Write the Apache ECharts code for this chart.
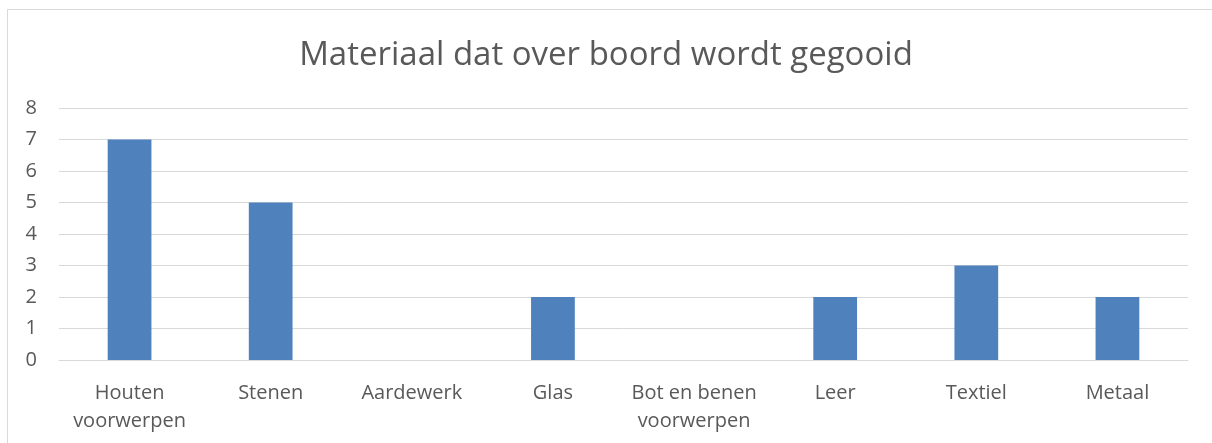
<!DOCTYPE html>
<html>
<head>
<meta charset="utf-8">
<script src="https://cdn.jsdelivr.net/npm/echarts@6/dist/echarts.min.js"></script>
<style>
  html, body { margin: 0; padding: 0; background: #fff; }
  #chart { width: 1212px; height: 443px; }
</style>
</head>
<body>
<div id="chart"></div>
<script>
const categories = ['Houten\nvoorwerpen', 'Stenen', 'Aardewerk', 'Glas', 'Bot en benen\nvoorwerpen', 'Leer', 'Textiel', 'Metaal']
const values = [7, 5, 0, 2, 0, 2, 3, 2]
const titleText = 'Materiaal dat over boord wordt gegooid'

const myChart = echarts.init(document.getElementById('chart'))
const textColor = '#595959'
const font = '"Open Sans", sans-serif'

const option = {
  backgroundColor: '#fff',
  textStyle: { fontFamily: font },
  title: {
    text: titleText,
    left: 'center',
    top: 34,
    textStyle: { color: textColor, fontSize: 33, fontWeight: 'normal', fontFamily: font }
  },
  graphic: [
    {
      type: 'rect',
      shape: { x: 7.5, y: 9.5, width: 1215, height: 445 },
      style: { fill: 'none', stroke: '#D9D9D9', lineWidth: 1 },
      silent: true
    }
  ],
  grid: { left: 59, right: 24, top: 108, bottom: 83 },
  xAxis: {
    type: 'category',
    data: categories,
    axisLine: { show: true, lineStyle: { color: '#D9D9D9' } },
    axisTick: { show: false },
    axisLabel: { color: textColor, fontSize: 20, lineHeight: 28, margin: 19, interval: 0 }
  },
  yAxis: {
    type: 'value',
    min: 0,
    max: 8,
    interval: 1,
    axisLine: { show: false },
    axisTick: { show: false },
    axisLabel: { color: textColor, fontSize: 20, margin: 22 },
    splitLine: { lineStyle: { color: '#D9D9D9', width: 1 } }
  },
  series: [
    {
      type: 'bar',
      data: values,
      barWidth: '31%',
      itemStyle: { color: '#4F81BD' }
    }
  ]
}

myChart.setOption(option)
window.onresize = myChart.resize
</script>
</body>
</html>
